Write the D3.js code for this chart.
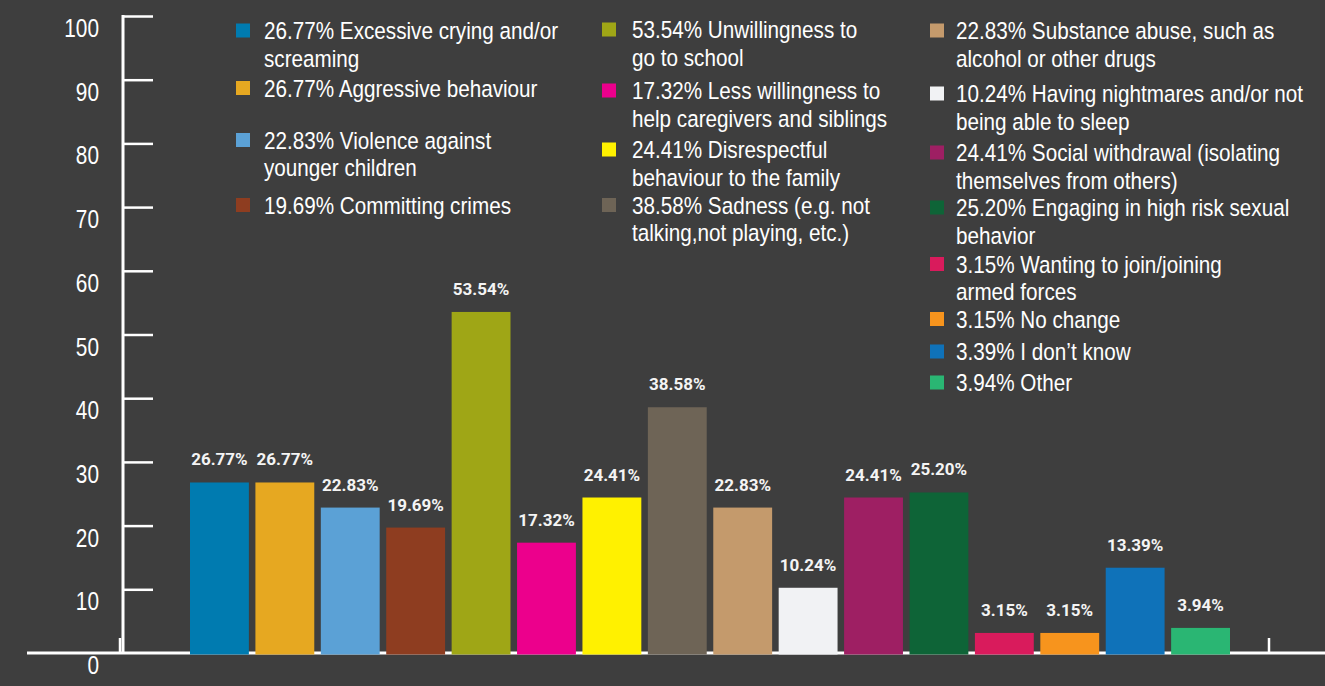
<!DOCTYPE html>
<html>
<head>
<meta charset="utf-8">
<script src="https://cdn.jsdelivr.net/npm/d3@7"></script>
<style>
  html, body { margin: 0; padding: 0; background: #3e3e3e; }
  svg { display: block; }
</style>
</head>
<body>
<div id="chart"></div>
<script>
// Categories in bar order
const categories = [
    "Excessive crying and/or screaming",
    "Aggressive behaviour",
    "Violence against younger children",
    "Committing crimes",
    "Unwillingness to go to school",
    "Less willingness to help caregivers and siblings",
    "Disrespectful behaviour to the family",
    "Sadness (e.g. not talking,not playing, etc.)",
    "Substance abuse, such as alcohol or other drugs",
    "Having nightmares and/or not being able to sleep",
    "Social withdrawal (isolating themselves from others)",
    "Engaging in high risk sexual behavior",
    "Wanting to join/joining armed forces",
    "No change",
    "I don't know",
    "Other"
];

// Percent of respondents (bar heights)
const values = [26.77, 26.77, 22.83, 19.69, 53.54, 17.32, 24.41, 38.58, 22.83, 10.24, 24.41, 25.20, 3.15, 3.15, 13.39, 3.94];

const colors = ["#007bb0", "#e6a821", "#5ba1d6", "#8e3d20", "#9fa616", "#ec008c", "#fff100", "#6e6456",
    "#c49a6c", "#f1f2f4", "#9e1f63", "#0e6437", "#d91b5c", "#f7941d", "#0f72b9", "#2ab673"];

// Legend text, as wrapped in the original
const legendLines = [
    ["26.77% Excessive crying and/or", "screaming"],
    ["26.77% Aggressive behaviour"],
    ["22.83% Violence against", "younger children"],
    ["19.69% Committing crimes"],
    ["53.54% Unwillingness to", "go to school"],
    ["17.32% Less willingness to", "help caregivers and siblings"],
    ["24.41% Disrespectful", "behaviour to the family"],
    ["38.58% Sadness (e.g. not", "talking,not playing, etc.)"],
    ["22.83% Substance abuse, such as", "alcohol or other drugs"],
    ["10.24% Having nightmares and/or not", "being able to sleep"],
    ["24.41% Social withdrawal (isolating", "themselves from others)"],
    ["25.20% Engaging in high risk sexual", "behavior"],
    ["3.15% Wanting to join/joining", "armed forces"],
    ["3.15% No change"],
    ["3.39% I don\u2019t know"],
    ["3.94% Other"]
];

const yTicks = [0, 10, 20, 30, 40, 50, 60, 70, 80, 90, 100];

const width = 1325, height = 686;

const svg = d3.select("#chart")
    .append("svg")
    .attr("width", width)
    .attr("height", height);

svg.append("rect")
    .attr("width", width)
    .attr("height", height)
    .attr("fill", "#3e3e3e");

const x = d3.scaleBand()
    .domain(categories)
    .range([190, 1230])
    .paddingInner(0.1)
    .paddingOuter(0);

const y = d3.scaleLinear()
    .domain([0, 100])
    .range([653, 16]);

const axisX = 123;
const narrow = 0.88; // no condensed face installed, so squeeze horizontally

// Baseline with end stubs
svg.append("line")
    .attr("x1", 27).attr("x2", width)
    .attr("y1", y(0)).attr("y2", y(0))
    .attr("stroke", "#fff").attr("stroke-width", 3);

[axisX - 3, x.range()[1] + 39].forEach(sx => {
    svg.append("line")
        .attr("x1", sx).attr("x2", sx)
        .attr("y1", y(0) - 15).attr("y2", y(0))
        .attr("stroke", "#fff").attr("stroke-width", 2.5);
});

// Y axis: vertical line, ticks to the right, labels to the left
const yAxis = svg.append("g")
    .attr("transform", `translate(${axisX},0)`)
    .call(d3.axisRight(y).tickValues(yTicks.filter(d => d > 0)).tickSize(30).tickFormat(""));

yAxis.select(".domain").remove();
yAxis.selectAll(".tick line")
    .attr("stroke", "#fff")
    .attr("stroke-width", 2.5);

svg.append("line")
    .attr("x1", axisX).attr("x2", axisX)
    .attr("y1", y(100) - 1).attr("y2", y(0))
    .attr("stroke", "#fff").attr("stroke-width", 3);

svg.selectAll(".ylabel")
    .data(yTicks)
    .enter()
    .append("text")
    .attr("class", "ylabel")
    .attr("transform", d => `translate(99,${y(d) + 21}) scale(0.8,1)`)
    .attr("text-anchor", "end")
    .attr("fill", "#fff")
    .style("font-family", "'Liberation Sans', sans-serif")
    .style("font-size", "26px")
    .text(d => d);

// Bars
svg.selectAll(".bar")
    .data(values)
    .enter()
    .append("rect")
    .attr("class", "bar")
    .attr("x", (d, i) => x(categories[i]))
    .attr("y", d => y(d))
    .attr("width", x.bandwidth())
    .attr("height", d => y(0) - y(d) + 1.5)
    .attr("fill", (d, i) => colors[i]);

// Value labels
svg.selectAll(".vlabel")
    .data(values)
    .enter()
    .append("text")
    .attr("class", "vlabel")
    .attr("x", (d, i) => x(categories[i]) + x.bandwidth() / 2)
    .attr("y", d => y(d) - 17)
    .attr("text-anchor", "middle")
    .attr("fill", "#f4f4f4")
    .style("font-family", "Roboto, sans-serif")
    .style("font-weight", "bold")
    .style("font-size", "17px")
    .text(d => d.toFixed(2) + "%");

// Legend: three columns, baseline of first line per item
const legendCols = [
    { swatchX: 236, textX: 264, items: [0, 1, 2, 3], baselines: [39.5, 97, 149, 214] },
    { swatchX: 602, textX: 632, items: [4, 5, 6, 7], baselines: [38.5, 99.5, 158.5, 214] },
    { swatchX: 930, textX: 956, items: [8, 9, 10, 11, 12, 13, 14, 15],
      baselines: [39.5, 102.5, 161.5, 216.5, 273, 328, 360.5, 391.5] }
];
const lineHeight = 27.5;

legendCols.forEach(col => {
    col.items.forEach((idx, k) => {
        const by = col.baselines[k];
        const g = svg.append("g").attr("class", "legend");
        g.append("rect")
            .attr("x", col.swatchX)
            .attr("y", by - 16)
            .attr("width", 14)
            .attr("height", 14)
            .attr("fill", colors[idx]);
        const t = g.append("text")
            .attr("transform", `translate(${col.textX},0) scale(${narrow},1)`)
            .attr("fill", "#fff")
            .style("font-family", "'Liberation Sans', sans-serif")
            .style("font-size", "23.5px");
        legendLines[idx].forEach((line, j) => {
            t.append("tspan")
                .attr("x", 0)
                .attr("y", by + j * lineHeight)
                .text(line);
        });
    });
});
</script>
</body>
</html>
